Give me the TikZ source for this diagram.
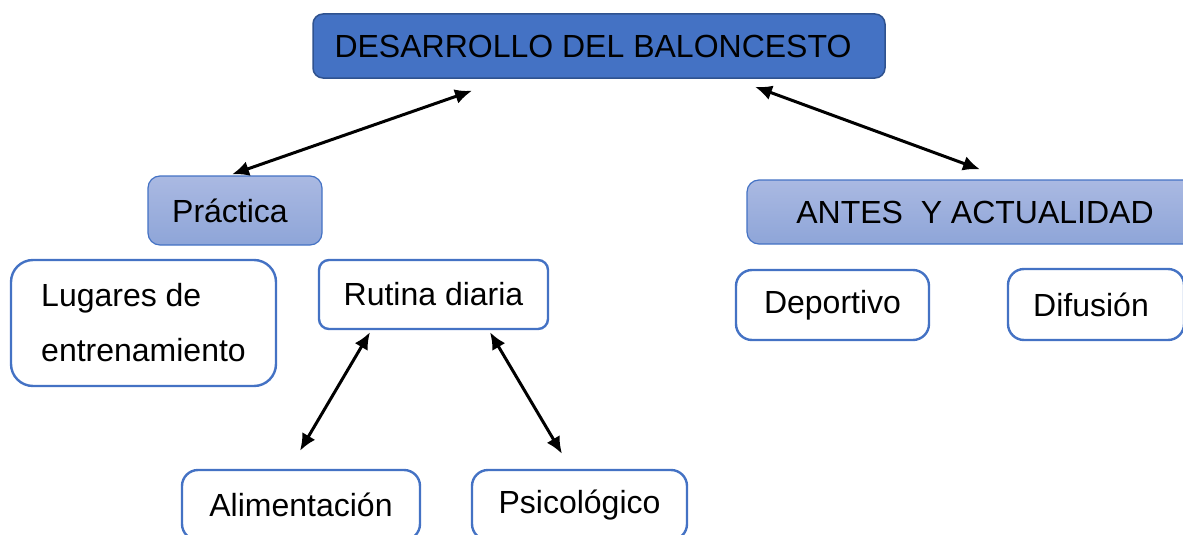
\documentclass[tikz,border=0pt]{standalone}
\usepackage{fontspec}
\setmainfont{Liberation Sans}
\usetikzlibrary{arrows.meta}
\definecolor{mainblue}{HTML}{4472C4}
\definecolor{darkblue}{HTML}{2F528F}
\definecolor{lighttop}{HTML}{AAB9E2}
\definecolor{lightbot}{HTML}{8EA5D8}

\begin{document}
\begin{tikzpicture}[x=1pt, y=-1pt,
  every node/.style = {shape=rectangle, align=center,
    font=\fontsize{32}{38}\selectfont, inner sep=0pt},
  titlebox/.style = {draw=darkblue, line width=1.5pt, fill=mainblue,
    rounded corners=10pt},
  groupbox/.style = {draw=mainblue, line width=1.2pt, rounded corners=12pt,
    top color=lighttop, bottom color=lightbot},
  leafbox/.style = {draw=mainblue, line width=2.4pt, fill=white,
    rounded corners=16pt},
  link/.style = {{Latex[length=17pt,width=15pt]}-{Latex[length=17pt,width=15pt]},
    line width=3pt}]

  \useasboundingbox (0,0) rectangle (1183,535);
  \clip (0,0) rectangle (1183,535);

  \node[titlebox, minimum width=572pt, minimum height=64pt] (top) at (599,46)
    {\hspace{-12pt}DESARROLLO DEL BALONCESTO};
  \node[groupbox, minimum width=174pt, minimum height=69pt] (prac) at (235,210.5)
    {Práctica\hspace{10pt}};
  \node[groupbox, minimum width=456pt, minimum height=64pt] (antes) at (975,212)
    {ANTES\ \ Y ACTUALIDAD};
  \node[leafbox, minimum width=265pt, minimum height=126pt, align=left,
    rounded corners=22pt,
    font=\fontsize{32}{55}\selectfont] (lug) at (143.5,323)
    {Lugares de\\entrenamiento\hspace{10pt}};
  \node[leafbox, minimum width=229pt, minimum height=69pt,
    rounded corners=10pt] (rut) at (433.5,294.5) {Rutina diaria};
  \node[leafbox, minimum width=193pt, minimum height=70pt] (dep) at (832.5,305)
    {Deportivo};
  \node[leafbox, minimum width=176pt, minimum height=71pt] (dif) at (1096,304.5)
    {Difusión\hspace{10pt}};
  \node[leafbox, minimum width=238pt, minimum height=70pt] (ali) at (301,505)
    {Alimentación};
  \node[leafbox, minimum width=215pt, minimum height=70pt] (psi) at (579.5,505)
    {\raisebox{-2pt}{Psicológico}};

  \draw[link] ([xshift=-127pt,yshift=-12pt]top.south) -- ([xshift=-3pt,yshift=1pt]prac.north);
  \draw[link] ([xshift=156pt,yshift=-8pt]top.south) -- ([xshift=5pt,yshift=10pt]antes.north);
  \draw[link] ([xshift=-63.5pt,yshift=-2pt]rut.south) -- ([xshift=-1pt,yshift=18pt]ali.north);
  \draw[link] ([xshift=56.5pt,yshift=-2pt]rut.south) -- ([xshift=-17.5pt,yshift=15pt]psi.north);
\end{tikzpicture}
\end{document}
